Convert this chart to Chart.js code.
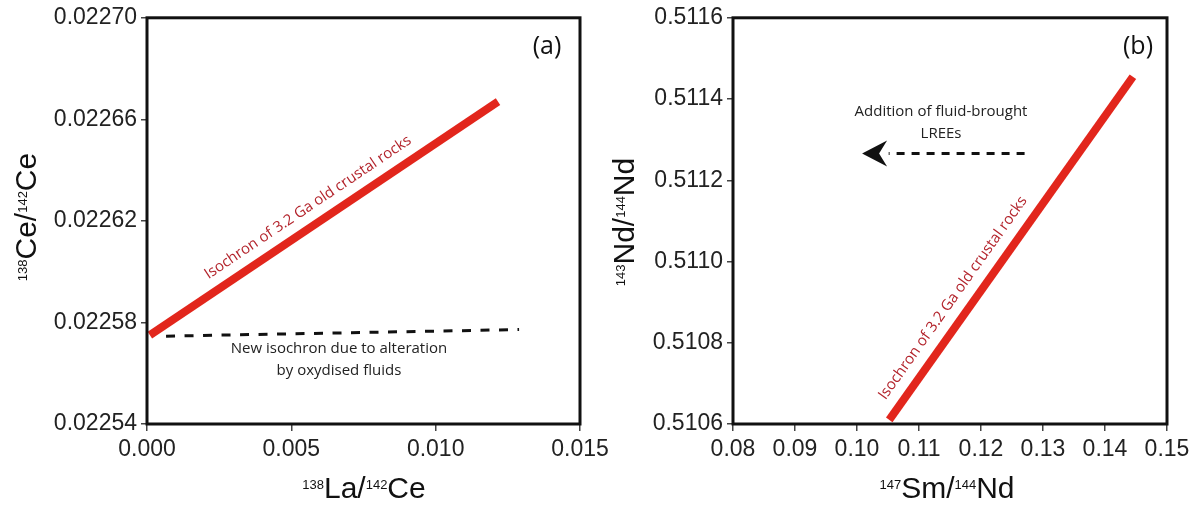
<!DOCTYPE html>
<html>
<head>
<meta charset="utf-8">
<script src="https://cdn.jsdelivr.net/npm/chart.js@4.4.1/dist/chart.umd.min.js"></script>
<style>
  html, body { margin: 0; padding: 0; background: #fff; }
  #wrap { position: relative; width: 1196px; height: 506px; overflow: hidden; }
  #chartA { position: absolute; left: 0; top: 0; }
  #chartB { position: absolute; left: 598px; top: 0; }
</style>
</head>
<body>
<div id="wrap">
  <canvas id="chartA" width="640" height="506"></canvas>
  <canvas id="chartB" width="598" height="506"></canvas>
</div>
<script>
// panel (a): La-Ce
const ceIsochronX = [0.0001, 0.01216];
const ceIsochronY = [0.022575, 0.022667];
const ceAlteredX = [0.00066, 0.01289];
const ceAlteredY = [0.0225746, 0.0225772];
const ceXTicks = [0, 0.005, 0.010, 0.015];
const ceXTickLabels = ['0.000', '0.005', '0.010', '0.015'];
const ceYTicks = [0.02254, 0.02258, 0.02262, 0.02266, 0.02270];
const ceYTickLabels = ['0.02254', '0.02258', '0.02262', '0.02266', '0.02270'];

// panel (b): Sm-Nd
const ndIsochronX = [0.1052, 0.1445];
const ndIsochronY = [0.51061, 0.511455];
const ndArrowX = [0.12703, 0.10511];
const ndArrowY = [0.511266, 0.511266];
const ndArrowTipX = 0.10082;
const ndXTicks = [0.08, 0.09, 0.10, 0.11, 0.12, 0.13, 0.14, 0.15];
const ndXTickLabels = ['0.08', '0.09', '0.10', '0.11', '0.12', '0.13', '0.14', '0.15'];
const ndYTicks = [0.5106, 0.5108, 0.5110, 0.5112, 0.5114, 0.5116];
const ndYTickLabels = ['0.5106', '0.5108', '0.5110', '0.5112', '0.5114', '0.5116'];

const toPoints = (xs, ys) => xs.map((x, i) => ({ x, y: ys[i] }));

const RED = '#e2261c';
const LABEL_RED = '#b3242c';
const TICK_FONT = { family: '"Liberation Sans", Arial, sans-serif', size: 23 };
const MAIN_FONT = '30px "Liberation Sans", Arial, sans-serif';
const SUP_FONT = '13px "Liberation Sans", Arial, sans-serif';
const NOTE_FONT = '15px "Open Sans", sans-serif';

const drawRatio = (ctx, x, y, rotate, parts) => {
  ctx.save();
  ctx.translate(x, y);
  if (rotate) ctx.rotate(-Math.PI / 2);
  ctx.fillStyle = '#111';
  ctx.textAlign = 'left';
  ctx.textBaseline = 'alphabetic';
  let total = 0;
  parts.forEach((p) => {
    ctx.font = p.sup ? SUP_FONT : MAIN_FONT;
    total += ctx.measureText(p.t).width;
  });
  let cur = -total / 2;
  parts.forEach((p) => {
    ctx.font = p.sup ? SUP_FONT : MAIN_FONT;
    ctx.fillText(p.t, cur, p.sup ? -9 : 0);
    cur += ctx.measureText(p.t).width;
  });
  ctx.restore();
};

const drawAlongLine = (chart, text, cx, cy, xs, ys) => {
  const { ctx, scales } = chart;
  const x0 = scales.x.getPixelForValue(xs[0]);
  const y0 = scales.y.getPixelForValue(ys[0]);
  const x1 = scales.x.getPixelForValue(xs[1]);
  const y1 = scales.y.getPixelForValue(ys[1]);
  const angle = Math.atan2(y1 - y0, x1 - x0);
  ctx.save();
  ctx.translate(scales.x.getPixelForValue(cx), scales.y.getPixelForValue(cy));
  ctx.rotate(angle);
  ctx.font = NOTE_FONT;
  ctx.fillStyle = LABEL_RED;
  ctx.textAlign = 'center';
  ctx.textBaseline = 'middle';
  ctx.fillText(text, 0, 0);
  ctx.restore();
};

const drawNote = (chart, lines, cx, cy, lineGap) => {
  const { ctx, scales } = chart;
  const px = scales.x.getPixelForValue(cx);
  const py = scales.y.getPixelForValue(cy);
  ctx.save();
  ctx.font = NOTE_FONT;
  ctx.fillStyle = '#222';
  ctx.textAlign = 'center';
  ctx.textBaseline = 'middle';
  lines.forEach((line, i) => ctx.fillText(line, px, py + i * lineGap));
  ctx.restore();
};

const framePlugin = {
  id: 'frame',
  afterDatasetsDraw(chart, args, opts) {
    const { ctx, chartArea } = chart;
    ctx.save();
    ctx.strokeStyle = '#111';
    ctx.lineWidth = 3;
    ctx.strokeRect(chartArea.left, chartArea.top, chartArea.right - chartArea.left, chartArea.bottom - chartArea.top);
    ctx.font = '25px "Open Sans", sans-serif';
    ctx.fillStyle = '#111';
    ctx.textAlign = 'center';
    ctx.textBaseline = 'middle';
    ctx.fillText(opts.tag, chartArea.right - opts.tagDx, chartArea.top + 29);
    ctx.restore();
    if (opts.extra) opts.extra(chart);
  }
};

const makeAxes = (xTicks, xLabels, yTicks, yLabels, yWidth) => ({
  x: {
    type: 'linear',
    min: xTicks[0],
    max: xTicks[xTicks.length - 1],
    afterBuildTicks: (scale) => { scale.ticks = xTicks.map((value) => ({ value })); },
    afterFit: (scale) => { scale.height = 82; },
    grid: { drawOnChartArea: false, drawTicks: true, tickLength: 7, color: '#444', lineWidth: 1.5 },
    border: { display: false },
    ticks: { font: TICK_FONT, color: '#222', padding: 5, maxRotation: 0, autoSkip: false,
      callback: (value, index) => xLabels[index] }
  },
  y: {
    type: 'linear',
    min: yTicks[0],
    max: yTicks[yTicks.length - 1],
    afterBuildTicks: (scale) => { scale.ticks = yTicks.map((value) => ({ value })); },
    afterFit: (scale) => { scale.width = yWidth; },
    grid: { drawOnChartArea: false, drawTicks: true, tickLength: 6, color: '#444', lineWidth: 1.5 },
    border: { display: false },
    ticks: { font: TICK_FONT, color: '#222', padding: 4, autoSkip: false,
      callback: (value, index) => yLabels[index] }
  }
});

const baseOptions = {
  responsive: false,
  animation: false,
  events: [],
  plugins: { legend: { display: false }, tooltip: { enabled: false } }
};

new Chart(document.getElementById('chartA'), {
  type: 'scatter',
  data: {
    datasets: [
      { data: toPoints(ceIsochronX, ceIsochronY), showLine: true, borderColor: RED, borderWidth: 8, pointRadius: 0, clip: false },
      { data: toPoints(ceAlteredX, ceAlteredY), showLine: true, borderColor: '#111', borderWidth: 3, borderDash: [9, 9.5], pointRadius: 0 }
    ]
  },
  options: {
    ...baseOptions,
    layout: { padding: { top: 17, right: 60, bottom: 0, left: 0 } },
    scales: makeAxes(ceXTicks, ceXTickLabels, ceYTicks, ceYTickLabels, 147),
    plugins: {
      ...baseOptions.plugins,
      frame: {
        tag: '(a)',
        tagDx: 33,
        extra: (chart) => {
          drawAlongLine(chart, 'Isochron of 3.2 Ga old crustal rocks', 0.005577, 0.0226253, ceIsochronX, ceIsochronY);
          drawNote(chart, ['New isochron due to alteration', 'by oxydised fluids'], 0.00665, 0.0225695, 22);
          drawRatio(chart.ctx, 364, 498, false, [{ t: '138', sup: true }, { t: 'La/' }, { t: '142', sup: true }, { t: 'Ce' }]);
          drawRatio(chart.ctx, 36, 217, true, [{ t: '138', sup: true }, { t: 'Ce/' }, { t: '142', sup: true }, { t: 'Ce' }]);
        }
      }
    }
  },
  plugins: [framePlugin]
});

new Chart(document.getElementById('chartB'), {
  type: 'scatter',
  data: {
    datasets: [
      { data: toPoints(ndIsochronX, ndIsochronY), showLine: true, borderColor: RED, borderWidth: 8, pointRadius: 0, clip: false },
      { data: toPoints(ndArrowX, ndArrowY), showLine: true, borderColor: '#111', borderWidth: 3, borderDash: [8, 7], pointRadius: 0 }
    ]
  },
  options: {
    ...baseOptions,
    layout: { padding: { top: 17, right: 29, bottom: 0, left: 0 } },
    scales: makeAxes(ndXTicks, ndXTickLabels, ndYTicks, ndYTickLabels, 135),
    plugins: {
      ...baseOptions.plugins,
      frame: {
        tag: '(b)',
        tagDx: 29,
        extra: (chart) => {
          const { ctx, scales } = chart;
          // arrow head at the end of the dashed line
          const tx = scales.x.getPixelForValue(ndArrowTipX);
          const ty = scales.y.getPixelForValue(ndArrowY[1]);
          ctx.save();
          ctx.fillStyle = '#111';
          ctx.beginPath();
          ctx.moveTo(tx, ty);
          ctx.lineTo(tx + 25, ty - 13);
          ctx.lineTo(tx + 17, ty);
          ctx.lineTo(tx + 25, ty + 13);
          ctx.closePath();
          ctx.fill();
          ctx.restore();
          drawAlongLine(chart, 'Isochron of 3.2 Ga old crustal rocks', 0.11548, 0.51091, ndIsochronX, ndIsochronY);
          drawNote(chart, ['Addition of fluid-brought', 'LREEs'], 0.11355, 0.511369, 22);
          drawRatio(ctx, 349, 498, false, [{ t: '147', sup: true }, { t: 'Sm/' }, { t: '144', sup: true }, { t: 'Nd' }]);
          drawRatio(ctx, 36, 222, true, [{ t: '143', sup: true }, { t: 'Nd/' }, { t: '144', sup: true }, { t: 'Nd' }]);
        }
      }
    }
  },
  plugins: [framePlugin]
});
</script>
</body>
</html>
